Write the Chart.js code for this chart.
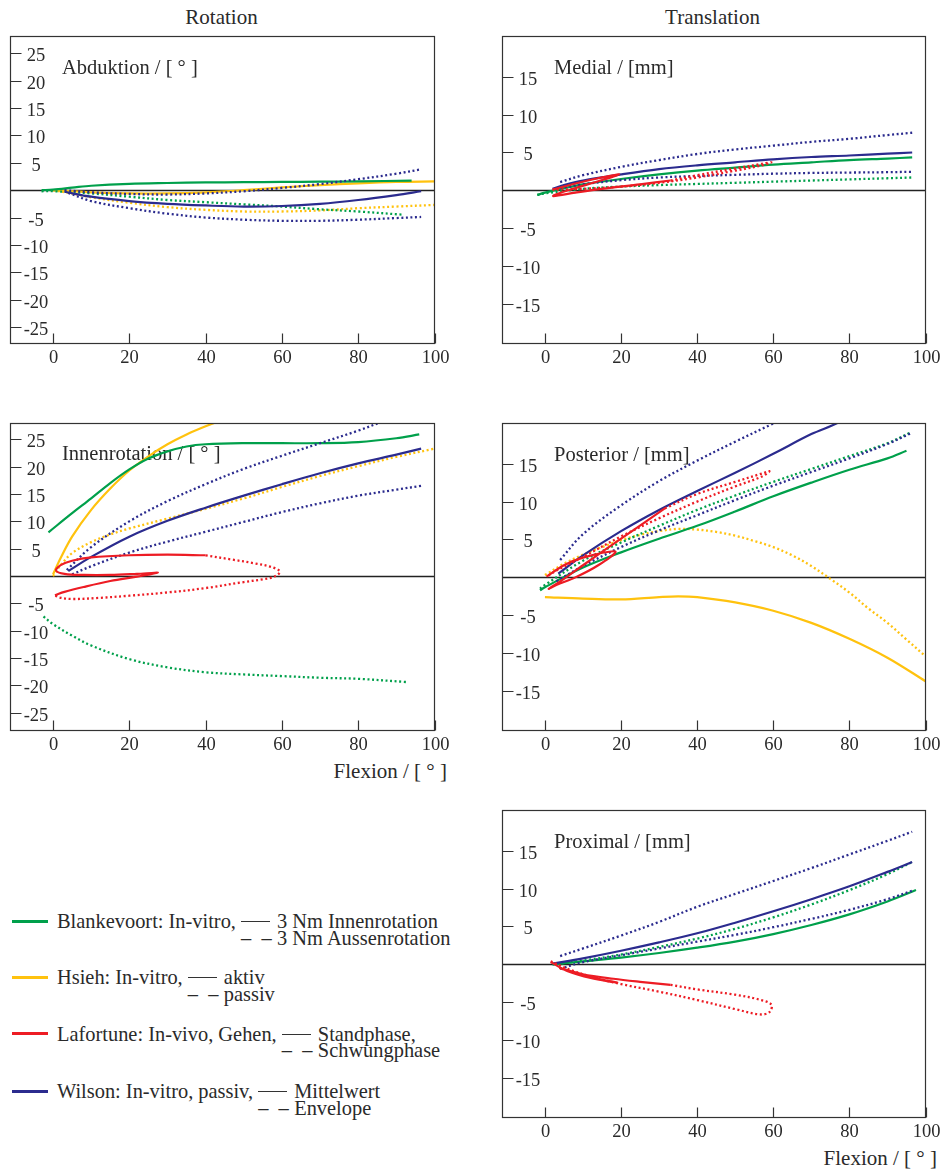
<!DOCTYPE html>
<html><head><meta charset="utf-8">
<script src="https://cdn.jsdelivr.net/npm/chart.js@4/dist/chart.umd.min.js"></script>
<style>
html,body{margin:0;padding:0;background:#fff}
body{width:941px;height:1174px;position:relative;overflow:hidden;font-family:"Liberation Serif","Times New Roman",serif;color:#2a2a2a}
canvas{position:absolute}
.t{position:absolute;font-size:21px;line-height:20px;white-space:nowrap}
.c{transform:translateX(-50%)}
.r{transform:translateX(-100%)}
.sw{position:absolute;left:12px;width:36px;height:3px}
.lg{position:absolute;left:57px;font-size:20.4px;line-height:16.7px;white-space:nowrap;display:flex;align-items:flex-start}
.rule{display:inline-block;width:29px;height:1px;background:#333;vertical-align:6px;margin-right:7px}
.dd{display:inline-block;width:36px}
</style></head><body>
<div class="t c" style="left:221.5px;top:7px">Rotation</div>
<div class="t c" style="left:712.5px;top:7px">Translation</div>
<div class="t r" style="left:447px;top:761px">Flexion / [ ° ]</div>
<div class="t r" style="left:937px;top:1148px">Flexion / [ ° ]</div>

<div id="legend"></div>

<script>
// ---------- categories / ticks ----------
const xTicks = [0, 20, 40, 60, 80, 100];
const yTicksRot = [25, 20, 15, 10, 5, -5, -10, -15, -20, -25];
const yTicksTrans = [15, 10, 5, -5, -10, -15];
const panelLabels = ["Abduktion / [ ° ]", "Medial / [mm]", "Innenrotation / [ ° ]", "Posterior / [mm]", "Proximal / [mm]"];
const studies = ["Blankevoort", "Hsieh", "Lafortune", "Wilson"];

// ---------- Abduktion ----------
const abd_blank_in   = [[-3,0],[0,0.1],[5,0.45],[10,0.8],[20,1.15],[30,1.3],[40,1.4],[50,1.45],[60,1.5],[70,1.55],[80,1.6],[94,1.75]];
const abd_blank_out  = [[-3,-0.2],[0,-0.2],[10,-0.6],[20,-1.2],[30,-1.8],[40,-2.2],[50,-2.6],[60,-3.0],[70,-3.5],[80,-3.9],[92,-4.5]];
const abd_hsieh_akt  = [[0,0],[10,-0.4],[20,-0.6],[30,-0.6],[40,-0.4],[50,0],[60,0.5],[70,0.9],[80,1.25],[90,1.5],[100,1.6]];
const abd_hsieh_pas  = [[0,0],[5,-0.6],[10,-1.3],[20,-2.3],[30,-3.1],[40,-3.6],[50,-3.9],[60,-3.9],[70,-3.7],[80,-3.3],[90,-3.0],[100,-2.7]];
const abd_wil_mean   = [[3,-0.3],[10,-1.2],[20,-2.0],[30,-2.5],[40,-2.8],[50,-3.0],[60,-2.9],[70,-2.5],[80,-1.8],[90,-0.9],[96.5,-0.2]];
const abd_wil_hi     = [[3,0],[10,-0.4],[20,-0.7],[30,-0.8],[40,-0.6],[50,-0.2],[60,0.4],[70,1.1],[80,2.0],[90,3.0],[96.5,3.8]];
const abd_wil_lo     = [[4,-0.5],[10,-2.0],[20,-3.3],[30,-4.3],[40,-5.0],[50,-5.4],[60,-5.6],[70,-5.6],[80,-5.4],[90,-5.1],[96.5,-4.9]];

// ---------- Medial ----------
const med_blank_in   = [[-2,-0.6],[0,-0.3],[5,0.3],[10,0.8],[20,1.5],[30,2.1],[40,2.6],[50,3.0],[60,3.4],[70,3.7],[80,4.0],[90,4.2],[96.5,4.35]];
const med_blank_out  = [[-2,-0.6],[0,-0.4],[10,0.2],[20,0.5],[30,0.7],[40,0.85],[50,1.0],[60,1.15],[70,1.3],[80,1.45],[90,1.6],[96.5,1.7]];
const med_laf_stand  = [[2,0.1],[8,0.9],[14,1.6],[19.5,2.1],[14,1.2],[8,0.3],[3,-0.5],[2.2,-0.75],[8,-0.3],[15,0.2],[25,0.8],[33,1.3]];
const med_laf_swing  = [[33,1.3],[40,2.0],[50,2.9],[57,3.5],[59.5,3.7],[57,3.3],[50,2.6],[40,1.7],[30,1.0],[20,0.5],[10,0.2],[2,0.1]];
const med_wil_mean   = [[2,0.2],[5,0.7],[10,1.3],[20,2.1],[30,2.8],[40,3.3],[50,3.7],[60,4.1],[70,4.4],[80,4.6],[90,4.85],[96.5,5.0]];
const med_wil_hi     = [[4,1.1],[10,2.0],[20,3.1],[30,4.0],[40,4.8],[50,5.4],[60,5.9],[70,6.4],[80,6.8],[90,7.3],[96.5,7.6]];
const med_wil_lo     = [[4,0.3],[10,0.8],[20,1.35],[30,1.7],[40,1.9],[50,2.05],[60,2.2],[70,2.3],[80,2.35],[90,2.4],[96.5,2.45]];

// ---------- Innenrotation ----------
const inn_blank_in   = [[-1.2,8],[5,11.5],[10,14.2],[15,17],[20,19.5],[25,21.5],[30,22.8],[35,23.7],[40,24.1],[50,24.3],[60,24.3],[70,24.3],[80,24.5],[90,25.2],[96,25.9]];
const inn_blank_out  = [[-2.5,-7.4],[0,-8.8],[5,-10.9],[10,-12.7],[20,-15.2],[30,-16.7],[40,-17.6],[50,-18.0],[60,-18.3],[70,-18.6],[80,-18.8],[93,-19.4]];
const inn_hsieh_akt  = [[0,0.3],[2,3.3],[5,7.2],[10,12.1],[15,16.0],[20,19.3],[25,21.9],[30,24.1],[35,25.9],[40,27.4],[45,28.7]];
const inn_hsieh_pas  = [[0,0],[2,2],[5,4.2],[10,6.2],[15,7.6],[20,8.7],[30,10.5],[40,12.3],[50,14.2],[60,16.3],[70,18.3],[80,20.1],[90,21.8],[100,23.3]];
const inn_laf_stand  = [[0.5,-3.5],[3,-2.9],[8,-2.0],[15,-0.9],[22,-0.1],[27.5,0.6],[22,0.4],[15,0.2],[8,0.2],[3,0.4],[0.8,1.0],[2,2.0],[5,2.8],[10,3.4],[20,3.8],[30,3.9],[40,3.8]];
const inn_laf_swing  = [[40,3.8],[47,3.0],[53,2.3],[57.5,1.6],[59.5,0.8],[58,-0.1],[55,-0.6],[50,-1.1],[40,-2.2],[30,-3.0],[20,-3.6],[12,-4.0],[5,-4.2],[1.5,-3.9],[0.5,-3.5]];
const inn_wil_mean   = [[4,0.9],[10,3.5],[20,7.2],[30,10.1],[40,12.5],[50,14.7],[60,16.8],[70,18.8],[80,20.6],[90,22.2],[96.5,23.3]];
const inn_wil_hi     = [[3.6,1.1],[10,5.3],[20,10],[30,13.7],[40,16.8],[50,19.6],[60,22],[70,24.3],[80,26.6],[86,28.2],[90,29.5]];
const inn_wil_lo     = [[5,0.3],[10,1.8],[20,4.3],[30,6.3],[40,8.1],[50,9.9],[60,11.7],[70,13.3],[80,14.7],[90,15.8],[96.5,16.5]];

// ---------- Posterior ----------
const pos_blank_in   = [[-1.3,-1.7],[0,-1.3],[10,1.3],[20,3.3],[30,5.1],[40,6.8],[50,8.7],[60,10.7],[70,12.5],[80,14.2],[90,15.7],[95,16.7]];
const pos_blank_out  = [[-1.3,-1.5],[0,-1.0],[10,2.2],[20,4.6],[30,6.8],[40,8.9],[50,10.8],[60,12.6],[70,14.3],[80,16.0],[90,17.7],[96,19.1]];
const pos_hsieh_akt  = [[0,-2.6],[10,-2.8],[20,-2.9],[30,-2.6],[35,-2.5],[40,-2.6],[50,-3.3],[60,-4.4],[70,-6.0],[80,-8.1],[90,-10.6],[100,-13.7]];
const pos_hsieh_pas  = [[0,0.3],[5,1.8],[10,3.0],[15,4.0],[20,4.9],[25,5.6],[30,6.1],[35,6.4],[40,6.3],[45,6.0],[50,5.5],[55,4.8],[60,4.0],[65,2.9],[70,1.5],[75,-0.2],[80,-2.0],[85,-4.1],[90,-6.0],[95,-8.2],[100,-10.4]];
const pos_laf_stand  = [[0.4,0.1],[5,1.6],[10,2.6],[18.5,3.4],[14,1.6],[8,0.0],[3,-1.0],[1,-1.5],[5,-0.2],[10,1.6],[20,5.1],[31.5,9.1]];
const pos_laf_swing  = [[31.5,9.1],[40,11.0],[50,12.6],[57,13.7],[59,14.0],[57,13.3],[50,12.0],[40,10.0],[30,7.8],[20,5.4],[10,2.7],[3,0.9],[0.4,0.1]];
const pos_wil_mean   = [[3.5,0.5],[10,2.9],[20,6.1],[30,8.9],[40,11.4],[50,13.8],[60,16.3],[70,18.9],[77,20.4],[80,21.5]];
const pos_wil_hi     = [[4,2.3],[10,5.7],[20,9.5],[30,12.7],[40,15.4],[50,17.9],[60,20.3],[65,21.5]];
const pos_wil_lo     = [[3,-0.5],[10,1.5],[20,4.0],[30,6.2],[40,8.2],[50,10.2],[60,12.1],[70,13.9],[80,15.7],[90,17.6],[96.5,19.1]];

// ---------- Proximal ----------
const pro_blank_in   = [[2,0],[10,0.4],[20,0.9],[30,1.5],[40,2.2],[50,3.0],[60,4.0],[70,5.2],[80,6.6],[90,8.3],[97.5,9.8]];
const pro_blank_out  = [[2,0],[10,0.5],[20,1.3],[30,2.3],[40,3.4],[50,4.7],[60,6.2],[70,7.9],[80,9.8],[90,11.9],[96.5,13.5]];
const pro_laf_stand  = [[1.5,0.3],[6,-0.9],[12,-1.8],[19,-2.4],[13,-1.8],[7,-1.0],[4,-0.5],[10,-1.3],[18,-1.9],[25,-2.3],[33,-2.7]];
const pro_laf_swing  = [[33,-2.7],[40,-3.3],[50,-4.0],[56,-4.6],[59.5,-5.3],[59,-6.3],[56.5,-6.6],[50,-5.9],[40,-4.7],[30,-3.6],[20,-2.6],[12,-1.6],[6,-0.6],[2.5,0.2],[1.5,0.4]];
const pro_wil_mean   = [[2,0.1],[10,0.8],[20,1.8],[30,2.9],[40,4.1],[50,5.5],[60,7.0],[70,8.6],[80,10.3],[90,12.2],[96.5,13.5]];
const pro_wil_hi     = [[4,1.1],[10,2.1],[20,3.8],[30,5.6],[40,7.6],[50,9.3],[60,11.0],[70,12.7],[80,14.5],[90,16.3],[96.5,17.5]];
const pro_wil_lo     = [[4,-0.6],[10,0.3],[20,1.2],[30,2.1],[40,3.0],[50,3.9],[60,4.9],[70,6.0],[80,7.2],[90,8.6],[97,9.8]];

// ---------- style ----------
const COL = {Blankevoort:'#00a04b', Hsieh:'#ffc20e', Lafortune:'#ed1c24', Wilson:'#2b2b8e'};
const FONT_TICK = '18.5px "Liberation Serif", serif';
const FONT_LAB = '20.5px "Liberation Serif", serif';

function ds(arr, study, dotted){
  return {
    data: arr.map(p => ({x:p[0], y:p[1]})),
    showLine: true, fill: false,
    borderColor: COL[study], backgroundColor: COL[study],
    borderWidth: dotted ? 2.3 : 2.2,
    borderDash: dotted ? [2, 2.6] : [],
    borderCapStyle: 'butt', borderJoinStyle: 'round',
    pointRadius: 0, tension: 0.35
  };
}

const framePlugin = {
  id: 'frame',
  beforeDatasetsDraw(chart){
    const {ctx, chartArea:a, scales:{x, y}} = chart;
    const o = chart.options.plugins.frame;
    ctx.save();
    ctx.fillStyle = '#2a2a2a'; ctx.font = FONT_LAB; ctx.textBaseline = 'alphabetic'; ctx.textAlign = 'left';
    ctx.fillText(o.label, a.left + o.labelDx, a.top + o.labelDy);
    const y0 = Math.round(y.getPixelForValue(0)) + 0.5;
    ctx.strokeStyle = '#222'; ctx.lineWidth = 1.3;
    ctx.beginPath(); ctx.moveTo(a.left, y0); ctx.lineTo(a.right, y0); ctx.stroke();
    ctx.restore();
  },
  afterDatasetsDraw(chart){
    const {ctx, chartArea:a, scales:{x, y}} = chart;
    const o = chart.options.plugins.frame;
    ctx.save();
    ctx.strokeStyle = '#333'; ctx.lineWidth = 1.2;
    ctx.strokeRect(a.left, a.top, a.right - a.left, a.bottom - a.top);
    ctx.fillStyle = '#2a2a2a'; ctx.font = FONT_TICK; ctx.textAlign = 'center'; ctx.textBaseline = 'middle';
    ctx.beginPath();
    for (const v of o.yTicks){
      const py = Math.round(y.getPixelForValue(v)) + 0.5;
      ctx.moveTo(a.left, py); ctx.lineTo(a.left + 11, py);
      ctx.fillText(String(v), a.left + 25.5, py + 2.5);
    }
    for (const v of xTicks){
      const px = Math.round(x.getPixelForValue(v)) + 0.5;
      ctx.moveTo(px, a.bottom); ctx.lineTo(px, a.bottom - 10);
      ctx.fillText(String(v), px, a.bottom + 15);
    }
    ctx.stroke();
    ctx.restore();
  }
};

function panel(cv, box, yr, yTicks, label, labelDy, series){
  const c = document.createElement('canvas');
  c.width = cv.w; c.height = cv.h;
  c.style.left = cv.x + 'px'; c.style.top = cv.y + 'px';
  document.body.appendChild(c);
  new Chart(c, {
    type: 'scatter',
    data: {datasets: series},
    options: {
      responsive: false, animation: false, devicePixelRatio: 1,
      layout: {padding: {left: box.l - cv.x, top: box.t - cv.y, right: cv.x + cv.w - box.r, bottom: cv.y + cv.h - box.b}},
      plugins: {legend: {display: false}, tooltip: {enabled: false},
        frame: {yTicks, label, labelDx: 51.5, labelDy: labelDy}},
      scales: {
        x: {type: 'linear', display: false, min: -11.15, max: 100},
        y: {type: 'linear', display: false, min: yr[0], max: yr[1]}
      }
    },
    plugins: [framePlugin]
  });
}

panel({x:0, y:0, w:470, h:390}, {l:10.5, t:36.5, r:434.5, b:343.5}, [-28, 28.05], yTicksRot, panelLabels[0], 37.5, [
  ds(abd_wil_mean,'Wilson',false), ds(abd_wil_hi,'Wilson',true), ds(abd_wil_lo,'Wilson',true),
  ds(abd_blank_in,'Blankevoort',false), ds(abd_blank_out,'Blankevoort',true),
  ds(abd_hsieh_akt,'Hsieh',false), ds(abd_hsieh_pas,'Hsieh',true)
]);
panel({x:470, y:0, w:471, h:390}, {l:502.5, t:36.5, r:925.5, b:343.5}, [-20.2, 20.3], yTicksTrans, panelLabels[1], 37.5, [
  ds(med_laf_stand,'Lafortune',false), ds(med_laf_swing,'Lafortune',true),
  ds(med_wil_mean,'Wilson',false), ds(med_wil_hi,'Wilson',true), ds(med_wil_lo,'Wilson',true),
  ds(med_blank_in,'Blankevoort',false), ds(med_blank_out,'Blankevoort',true)
]);
panel({x:0, y:390, w:470, h:410}, {l:10.5, t:423.5, r:434.5, b:730.5}, [-28.25, 27.9], yTicksRot, panelLabels[2], 36.5, [
  ds(inn_laf_stand,'Lafortune',false), ds(inn_laf_swing,'Lafortune',true),
  ds(inn_wil_mean,'Wilson',false), ds(inn_wil_hi,'Wilson',true), ds(inn_wil_lo,'Wilson',true),
  ds(inn_blank_in,'Blankevoort',false), ds(inn_blank_out,'Blankevoort',true),
  ds(inn_hsieh_akt,'Hsieh',false), ds(inn_hsieh_pas,'Hsieh',true)
]);
panel({x:470, y:390, w:471, h:400}, {l:502.5, t:423.5, r:925.5, b:730.5}, [-20.2, 20.3], yTicksTrans, panelLabels[3], 37, [
  ds(pos_laf_stand,'Lafortune',false), ds(pos_laf_swing,'Lafortune',true),
  ds(pos_wil_mean,'Wilson',false), ds(pos_wil_hi,'Wilson',true), ds(pos_wil_lo,'Wilson',true),
  ds(pos_blank_in,'Blankevoort',false), ds(pos_blank_out,'Blankevoort',true),
  ds(pos_hsieh_akt,'Hsieh',false), ds(pos_hsieh_pas,'Hsieh',true)
]);
panel({x:470, y:790, w:471, h:384}, {l:502.5, t:810.5, r:925.5, b:1117.5}, [-20.2, 20.3], yTicksTrans, panelLabels[4], 37.5, [
  ds(pro_laf_stand,'Lafortune',false), ds(pro_laf_swing,'Lafortune',true),
  ds(pro_wil_mean,'Wilson',false), ds(pro_wil_hi,'Wilson',true), ds(pro_wil_lo,'Wilson',true),
  ds(pro_blank_in,'Blankevoort',false), ds(pro_blank_out,'Blankevoort',true)
]);

// ---------- legend (HTML text) ----------
const legendText = [
  ["Blankevoort: In-vitro,", "3 Nm Innenrotation", "3 Nm Aussenrotation"],
  ["Hsieh: In-vitro,", "aktiv", "passiv"],
  ["Lafortune: In-vivo, Gehen,", "Standphase,", "Schwungphase"],
  ["Wilson: In-vitro, passiv,", "Mittelwert", "Envelope"]
];
const legendTops = [913.2, 969, 1025.6, 1083.2];
const L = document.getElementById('legend');
studies.forEach((s, i) => {
  const sw = document.createElement('div');
  sw.className = 'sw'; sw.style.top = (legendTops[i] + 6.5) + 'px'; sw.style.background = COL[s];
  L.appendChild(sw);
  const g = document.createElement('div');
  g.className = 'lg'; g.style.top = legendTops[i] + 'px';
  g.innerHTML = '<span>' + legendText[i][0] + '&nbsp;</span><span><span class="rule"></span>' + legendText[i][1] +
    '<br><span class="dd">–&nbsp;&nbsp;–</span>' + legendText[i][2] + '</span>';
  L.appendChild(g);
});
</script>
</body></html>
